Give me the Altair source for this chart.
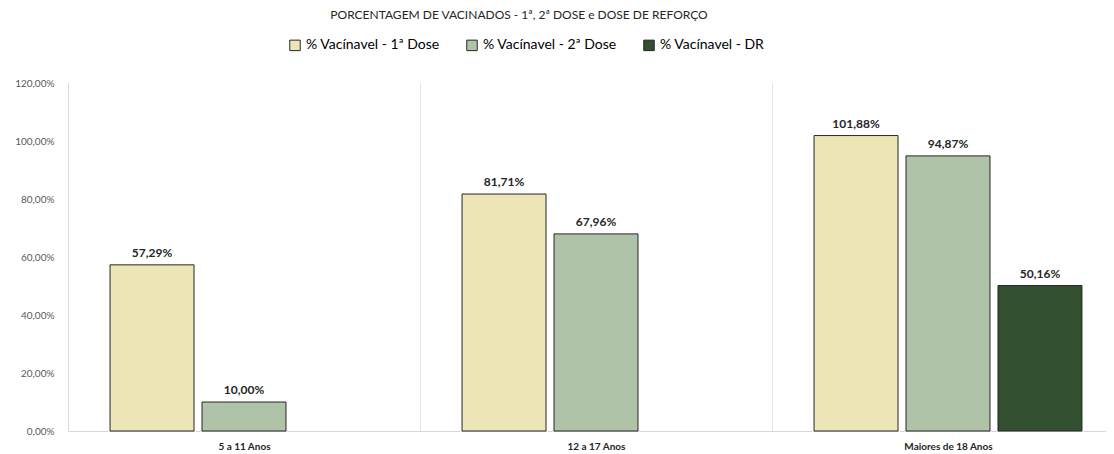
import altair as alt
import pandas as pd

categories = ["5 a 11 Anos", "12 a 17 Anos", "Maiores de 18 Anos"]
series_names = ["% Vacínavel - 1ª Dose", "% Vacínavel - 2ª Dose", "% Vacínavel - DR"]
dose1 = [57.29, 81.71, 101.88]
dose2 = [10.00, 67.96, 94.87]
dose_dr = [None, None, 50.16]
colors = ["#EDE5B5", "#AFC3A9", "#325030"]
y_ticks = [0, 20, 40, 60, 80, 100, 120]

rows = []
for s, vals in zip(series_names, [dose1, dose2, dose_dr]):
    for c, v in zip(categories, vals):
        if v is not None:
            rows.append({"cat": c, "serie": s, "valor": v,
                         "rotulo": f"{v:.2f}".replace(".", ",") + "%"})
df = pd.DataFrame(rows)

FONT = "Lato"
PLOT_W = 1038
BAND_RANGE = 1056

x = alt.X("cat:N", sort=categories, title=None,
          scale=alt.Scale(paddingInner=0, paddingOuter=0, range=[0, BAND_RANGE]),
          axis=alt.Axis(labelAngle=0, labelFont=FONT, labelFontSize=10, labelFontWeight="bold",
                        labelColor="#262626", labelPadding=10, ticks=False,
                        domainColor="#D9D9D9", grid=True, gridColor="#E3E3E3",
                        tickBand="extent"))
xo = alt.XOffset("serie:N", sort=series_names,
                 scale=alt.Scale(domain=series_names, paddingInner=0.087, paddingOuter=0.457))
y = alt.Y("valor:Q", title=None,
          scale=alt.Scale(domain=[0, 120], nice=False),
          axis=alt.Axis(values=y_ticks, labelFont=FONT, labelFontSize=10, labelColor="#595959",
                        labelPadding=14, ticks=False, grid=False, domainColor="#D9D9D9",
                        labelExpr="replace(format(datum.value, '.2f'), '.', ',') + '%'"))
color = alt.Color("serie:N", sort=series_names,
                  scale=alt.Scale(domain=series_names, range=colors),
                  legend=alt.Legend(title=None, orient="none", direction="horizontal",
                                    legendX=220, legendY=-45, symbolType="square",
                                    symbolSize=110, symbolStrokeColor="#262626",
                                    symbolStrokeWidth=1, symbolOpacity=1,
                                    labelFont=FONT, labelFontSize=14, labelColor="#000000",
                                    columnPadding=24, labelOffset=4))

base = alt.Chart(df).encode(x=x, xOffset=xo, y=y)
bars = base.mark_bar(stroke="#262626", strokeWidth=1).encode(color=color)
labels = base.mark_text(dy=-12, font=FONT, fontSize=12, fontWeight="bold",
                        color="#262626").encode(text="rotulo:N")

chart = (bars + labels).properties(
    width=PLOT_W, height=348,
    autosize=alt.AutoSizeParams(type="none"),
    padding={"left": 60, "top": 75, "right": 0, "bottom": 20},
    title=alt.TitleParams("PORCENTAGEM DE VACINADOS - 1ª, 2ª DOSE e DOSE DE REFORÇO",
                          font=FONT, fontSize=12, fontWeight="normal", color="#262626",
                          anchor="middle", dx=-68, offset=16),
).configure_view(stroke=None)

chart.save("out.html", embed_options={"renderer": "svg", "actions": False})
